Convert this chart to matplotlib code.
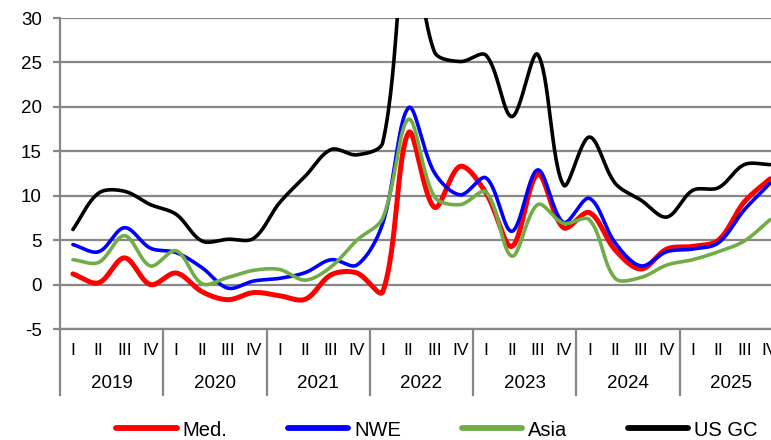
import numpy as np
import matplotlib
matplotlib.use("Agg")
import matplotlib.pyplot as plt
import matplotlib.transforms as mtransforms

plt.rcParams['font.family'] = ['Liberation Sans', 'DejaVu Sans']
plt.rcParams['axes.unicode_minus'] = False

years = ['2019', '2020', '2021', '2022', '2023', '2024', '2025']
quarters = ['I', 'II', 'III', 'IV']

med = [1.2, 0.2, 3.0, 0.0, 1.3, -0.8, -1.7, -0.9, -1.25, -1.65, 1.1, 1.3,
       -0.8, 17.1, 8.7, 13.3, 10.3, 4.3, 12.4, 6.4, 8.1, 3.9, 1.75, 4.0,
       4.3, 5.0, 9.3, 11.9]
nwe = [4.5, 3.7, 6.4, 4.1, 3.6, 1.9, -0.4, 0.4, 0.7, 1.35, 2.8, 2.2,
       6.9, 19.9, 12.6, 10.1, 12.0, 6.0, 12.9, 7.0, 9.7, 4.7, 2.1, 3.7,
       4.0, 4.7, 8.4, 11.4]
asia = [2.8, 2.5, 5.5, 2.1, 3.8, 0.1, 0.8, 1.6, 1.7, 0.5, 2.0, 5.0,
        7.5, 18.6, 9.9, 9.0, 10.4, 3.2, 9.0, 6.9, 7.3, 0.7, 0.8, 2.2,
        2.8, 3.7, 4.9, 7.3]
us_gc = [6.2, 10.3, 10.5, 9.0, 7.9, 4.9, 5.1, 5.2, 9.2, 12.2, 15.2, 14.6,
         16.0, 40.0, 26.2, 25.1, 25.8, 18.9, 25.9, 11.2, 16.6, 11.4, 9.5, 7.6,
         10.6, 10.9, 13.5, 13.5]

series = [
    ('Med.', med, '#ff0000', 3.6),
    ('NWE', nwe, '#0000ff', 2.6),
    ('Asia', asia, '#70ad47', 2.6),
    ('US GC', us_gc, '#000000', 2.6),
]


def smooth(y, yscale=0.344, steps=30):
    # bezier curve through the points, handles sized by neighbouring chord lengths
    y = np.asarray(y, dtype=float)
    n = len(y)
    p = np.column_stack([np.arange(n, dtype=float), y * yscale])
    ext = np.vstack([p[0], p, p[-1]])
    seg = np.linalg.norm(np.diff(ext, axis=0), axis=1)
    out_h, in_h = [], []
    for i in range(n):
        d = ext[i + 2] - ext[i]
        lp, ln = seg[i], seg[i + 1]
        tot = lp + ln if lp + ln > 0 else 1.0
        out_h.append(p[i] + d * ln / tot / 3 * 1.0)
        in_h.append(p[i] - d * lp / tot / 3 * 1.0)
    t = np.linspace(0, 1, steps)[:, None]
    b = np.hstack([(1 - t) ** 3, 3 * (1 - t) ** 2 * t, 3 * (1 - t) * t ** 2, t ** 3])
    pts = []
    for i in range(n - 1):
        ctrl = np.vstack([p[i], out_h[i], in_h[i + 1], p[i + 1]])
        pts.append(b @ ctrl)
    pts = np.vstack(pts)
    return pts[:, 0], pts[:, 1] / yscale


fig = plt.figure(figsize=(7.71, 4.40), dpi=100)
ax = fig.add_axes([60 / 771, 1 - 329 / 440, 723 / 771, 311 / 440])

grid = '#878787'
n = len(years) * len(quarters)
for name, vals, col, lw in series:
    sx, sy = smooth(vals)
    ax.plot(sx, sy, color=col, lw=lw, solid_capstyle='round', label=name, zorder=3)

ax.set_xlim(-0.5, n - 0.5)
ax.set_ylim(-5, 30)
ax.set_yticks(np.arange(-5, 31, 5))
ax.yaxis.grid(True, color=grid, lw=1.6)
ax.set_axisbelow(True)
ax.tick_params(axis='y', labelsize=13.5, length=5, width=1.6, color=grid, pad=8)

ax.set_xticks(np.arange(n))
ax.set_xticklabels(quarters * len(years))
ax.tick_params(axis='x', labelsize=12.5, length=0, pad=10)

for s in ['top', 'right']:
    ax.spines[s].set_visible(False)
for s in ['left', 'bottom']:
    ax.spines[s].set_color(grid)
    ax.spines[s].set_linewidth(1.6)

# year groups below the quarter labels
trans = mtransforms.blended_transform_factory(ax.transData, ax.transAxes)
for k, yr in enumerate(years):
    ax.text(k * 4 + 1.5, -0.176, yr, transform=trans, ha='center', va='center',
            fontsize=13.5)
    ax.plot([k * 4 - 0.5, k * 4 - 0.5], [-0.212, 0], transform=trans,
            color=grid, lw=1.6, clip_on=False)

leg = fig.legend(loc='center', bbox_to_anchor=(437 / 771, 1 - 430 / 440), ncol=4,
                 frameon=False, fontsize=14.5, handlelength=3.0, handletextpad=0.3,
                 columnspacing=3.0)
for h in leg.get_lines():
    h.set_linewidth(4.2)

fig.savefig('out.png', dpi=100)
